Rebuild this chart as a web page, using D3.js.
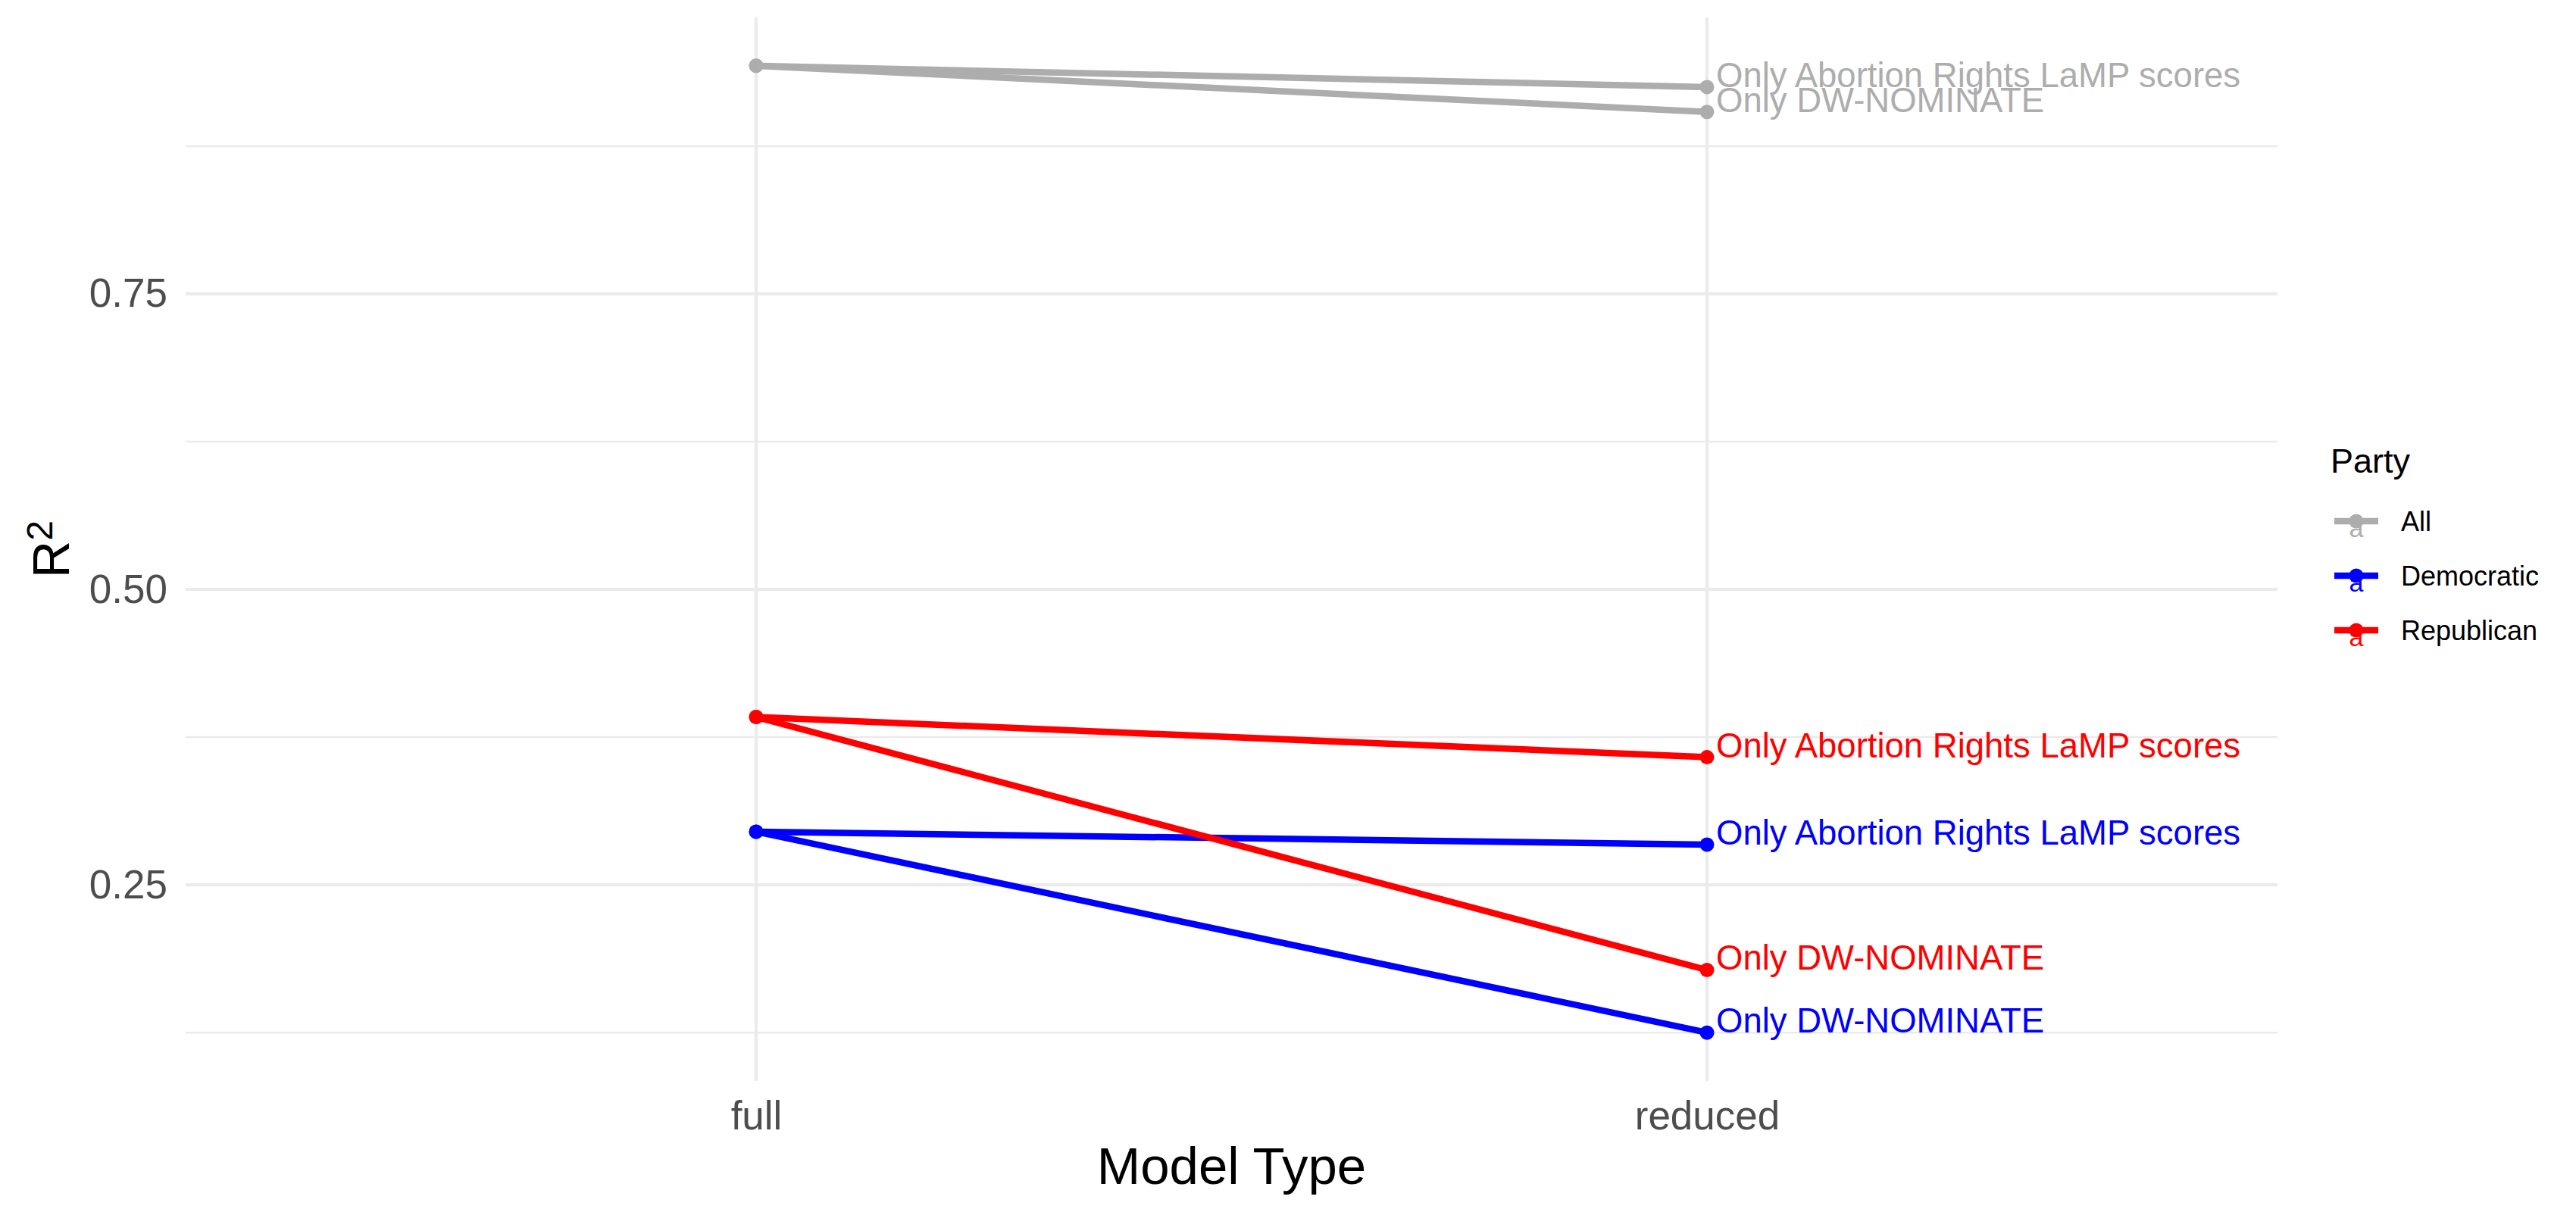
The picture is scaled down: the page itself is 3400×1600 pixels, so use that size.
<!DOCTYPE html>
<html>
<head>
<meta charset="utf-8">
<script src="https://cdn.jsdelivr.net/npm/d3@7"></script>
<style>
  body { margin: 0; background: #fff; }
  text { font-family: "Liberation Sans", Arial, sans-serif; }
</style>
</head>
<body>
<div id="box-div"></div>
<script>
// data
const models = ['full', 'reduced'];
const parties = ['All', 'Democratic', 'Republican'];
const partyColors = ['#adadad', '#0000ff', '#ff0000'];
const reducedTypes = ['Only Abortion Rights LaMP scores', 'Only DW-NOMINATE'];
const fullR2 = [0.943, 0.295, 0.392];        // by party
const abortionR2 = [0.925, 0.284, 0.358];    // reduced, abortion LaMP only
const dwR2 = [0.904, 0.125, 0.178];          // reduced, DW-NOMINATE only
const yTicks = [0.25, 0.50, 0.75];

const dms = {
    width: 3400,
    height: 1600,
    left: 245,
    right: 3006,
    top: 23,
    bottom: 1427
};
//"dms" for dimensions

// build one row per line segment
const reducedVals = [abortionR2, dwR2];
const series = [];
parties.forEach((p, i) => {
    reducedTypes.forEach((t, j) => {
        series.push({
            party: p,
            color: partyColors[i],
            label: t,
            values: [
                {model: models[0], r2: fullR2[i]},
                {model: models[1], r2: reducedVals[j][i]}
            ]
        });
    });
});

const allVals = fullR2.concat(abortionR2, dwR2);
const yMin = d3.min(allVals), yMax = d3.max(allVals);
const pad = (yMax - yMin) * 0.05;

const x = d3.scalePoint()
    .domain(models)
    .range([dms.left, dms.right])
    .padding(0.6);

const y = d3.scaleLinear()
    .domain([yMin - pad, yMax + pad])
    .range([dms.bottom, dms.top]);

const box = d3.select('#box-div').append('svg')
    .attr('width', dms.width)
    .attr('height', dms.height);

box.append('rect')
    .attr('width', dms.width)
    .attr('height', dms.height)
    .attr('fill', '#fff');

// grid
const grid = box.append('g').attr('id', 'grid');
const minor = d3.range(0.125, 1, 0.25).filter(v => v > y.domain()[0] && v < y.domain()[1]);
grid.selectAll('.minor')
    .data(minor)
    .join('line')
    .attr('x1', dms.left).attr('x2', dms.right)
    .attr('y1', d => y(d)).attr('y2', d => y(d))
    .attr('stroke', '#ebebeb')
    .attr('stroke-width', 2.5);
grid.selectAll('.major')
    .data(yTicks)
    .join('line')
    .attr('x1', dms.left).attr('x2', dms.right)
    .attr('y1', d => y(d)).attr('y2', d => y(d))
    .attr('stroke', '#ebebeb')
    .attr('stroke-width', 4.3);
grid.selectAll('.vert')
    .data(models)
    .join('line')
    .attr('x1', d => x(d)).attr('x2', d => x(d))
    .attr('y1', dms.top).attr('y2', dms.bottom)
    .attr('stroke', '#ebebeb')
    .attr('stroke-width', 4.3);

// axes
const yAxis = box.append('g')
    .attr('transform', `translate(${dms.left},0)`)
    .call(d3.axisLeft(y).tickValues(yTicks).tickFormat(d3.format('.2f')).tickSize(0).tickPadding(24));
const xAxis = box.append('g')
    .attr('transform', `translate(0,${dms.bottom})`)
    .call(d3.axisBottom(x).tickSize(0).tickPadding(26));
[yAxis, xAxis].forEach(a => {
    a.select('.domain').remove();
    a.selectAll('text')
        .attr('fill', '#4d4d4d')
        .style('font-size', '53px')
        .style('font-family', '"Liberation Sans", Arial, sans-serif');
});

box.append('text')
    .attr('x', (dms.left + dms.right) / 2)
    .attr('y', 1563)
    .attr('text-anchor', 'middle')
    .style('font-size', '69px')
    .text('Model Type');

const yTitle = box.append('text')
    .attr('transform', `translate(91,${(dms.top + dms.bottom) / 2}) rotate(-90)`)
    .attr('text-anchor', 'middle')
    .style('font-size', '68px');
yTitle.append('tspan').text('R');
yTitle.append('tspan').attr('dy', '-0.45em').style('font-size', '48px').text('2');

// lines + points
const lineGen = d3.line().x(d => x(d.model)).y(d => y(d.r2));
const marks = box.append('g').attr('id', 'marks');
series.forEach(s => {
    marks.append('path')
        .datum(s.values)
        .attr('d', lineGen)
        .attr('fill', 'none')
        .attr('stroke', s.color)
        .attr('stroke-width', 8.5);
    marks.selectAll(null)
        .data(s.values)
        .join('circle')
        .attr('cx', d => x(d.model))
        .attr('cy', d => y(d.r2))
        .attr('r', 9.5)
        .attr('fill', s.color);
});

// labels at the reduced end
series.forEach(s => {
    box.append('text')
        .attr('x', x('reduced') + 12)
        .attr('y', y(s.values[1].r2))
        .attr('fill', s.color)
        .style('font-size', '45.5px')
        .text(s.label);
});

// legend
const legend = box.append('g').attr('id', 'legend');
legend.append('text')
    .attr('x', 3076).attr('y', 624)
    .style('font-size', '45px')
    .text('Party');
const keyY = d3.scalePoint().domain(parties).range([688, 832]);
parties.forEach((p, i) => {
    const k = legend.append('g').attr('transform', `translate(0,${keyY(p)})`);
    k.append('line')
        .attr('x1', 3081).attr('x2', 3139)
        .attr('stroke', partyColors[i])
        .attr('stroke-width', 8.5);
    k.append('circle')
        .attr('cx', 3110).attr('r', 9.5)
        .attr('fill', partyColors[i]);
    k.append('text')
        .attr('x', 3110).attr('y', 21)
        .attr('text-anchor', 'middle')
        .attr('fill', partyColors[i])
        .style('font-size', '34px')
        .text('a');
    k.append('text')
        .attr('x', 3169).attr('y', 13)
        .style('font-size', '36px')
        .text(p);
});
</script>
</body>
</html>
